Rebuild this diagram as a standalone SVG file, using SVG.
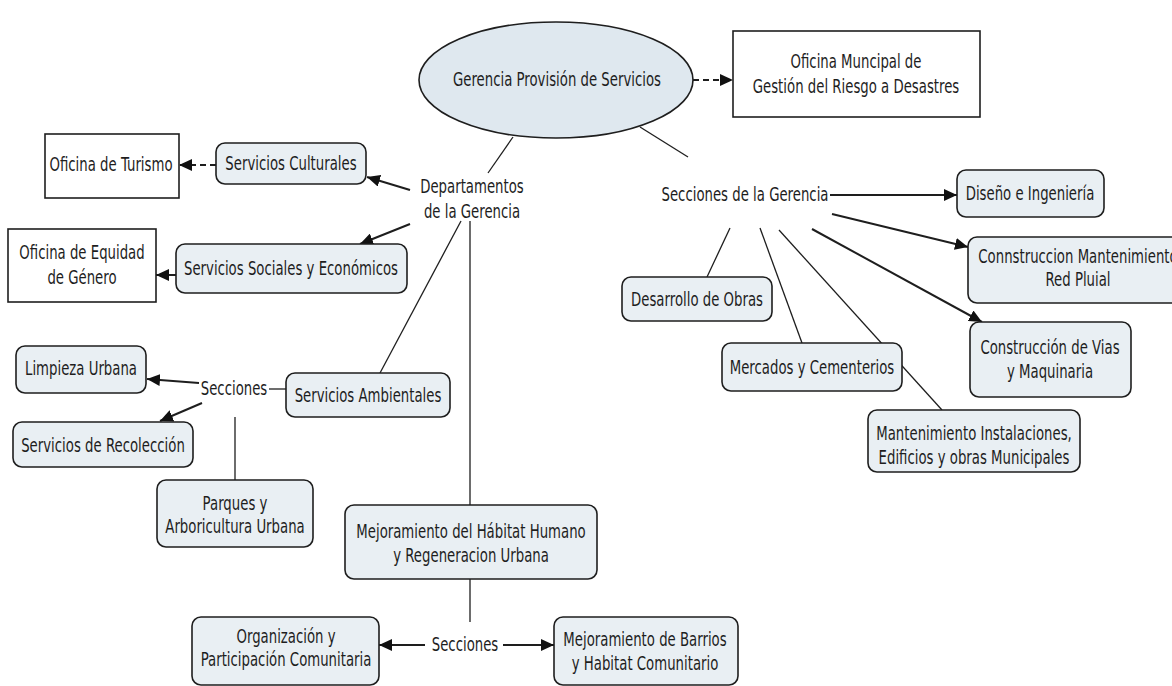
<svg xmlns="http://www.w3.org/2000/svg" width="1172" height="686" viewBox="0 0 1172 686">
<style>
.t{font-family:"DejaVu Sans",Verdana,"Liberation Sans",sans-serif;font-size:19px;text-anchor:middle;fill:#1e1e1e}
.n{fill:#e9eff3;stroke:#1e1e1e;stroke-width:1.6}
.b{fill:#ffffff;stroke:#1e1e1e;stroke-width:1.6}
.c{fill:none;stroke:#1e1e1e;stroke-width:1.3}
.a{fill:none;stroke:#1e1e1e;stroke-width:2;marker-end:url(#ah)}
.d{fill:none;stroke:#1e1e1e;stroke-width:1.8;stroke-dasharray:6 4;marker-end:url(#ah)}
</style>
<defs>
<marker id="ah" markerUnits="userSpaceOnUse" markerWidth="14" markerHeight="12" refX="13" refY="6" orient="auto">
<path d="M0,0 L13,6 L0,12 z" fill="#111"/>
</marker>
</defs>
<rect width="1172" height="686" fill="#ffffff"/>
<g id="connectors">
<path class="d" d="M693,80 L733,80"/>
<path class="c" d="M513,137 L488,173"/>
<path class="c" d="M640,127 L688,157"/>
<path class="a" d="M410,190 L367,177"/>
<path class="a" d="M410,224 L360,244"/>
<path class="c" d="M461,221 L380,373"/>
<path class="c" d="M470,221 L470,505"/>
<path class="d" d="M216,165 L179,165"/>
<path class="a" d="M176,275 L156,275"/>
<path class="c" d="M286,389 L269,389"/>
<path class="a" d="M199,383 L147,379"/>
<path class="a" d="M202,403 L160,421"/>
<path class="c" d="M235,417 L235,480"/>
<path class="c" d="M470,579 L470,622"/>
<path class="a" d="M425,645 L379,645"/>
<path class="a" d="M503,645 L554,645"/>
<path class="a" d="M830,195 L957,195"/>
<path class="a" d="M832,214 L968,247"/>
<path class="a" d="M812,229 L982,322"/>
<path class="c" d="M730,228 L707,277"/>
<path class="c" d="M760,228 L802,343"/>
<path class="c" d="M779,230 L942,410"/>
</g>
<g id="gerencia">
<ellipse cx="556" cy="80" rx="137" ry="58" fill="#dfe8ef" stroke="#1e1e1e" stroke-width="1.6"/>
<text class="t" transform="translate(557 0) scale(0.7 1)" x="0" y="86">Gerencia Provisión de Servicios</text>
</g>
<g id="oficina-riesgo">
<rect class="b" x="733" y="31" width="247" height="86"/>
<text class="t" transform="translate(856 0) scale(0.7 1)"><tspan x="0" y="68">Oficina Muncipal de</tspan><tspan x="0" y="93">Gestión del Riesgo a Desastres</tspan></text>
</g>
<g id="departamentos">
<text class="t" transform="translate(472 0) scale(0.7 1)"><tspan x="0" y="193">Departamentos</tspan><tspan x="0" y="218">de la Gerencia</tspan></text>
</g>
<g id="secciones-gerencia">
<text class="t" transform="translate(745 0) scale(0.7 1)" x="0" y="201">Secciones de la Gerencia</text>
</g>
<g id="oficina-turismo">
<rect class="b" x="45" y="134" width="134" height="64"/>
<text class="t" transform="translate(111 0) scale(0.7 1)" x="0" y="171">Oficina de Turismo</text>
</g>
<g id="servicios-culturales">
<rect class="n" x="216" y="143" width="150" height="41" rx="9"/>
<text class="t" transform="translate(291 0) scale(0.7 1)" x="0" y="170">Servicios Culturales</text>
</g>
<g id="oficina-equidad">
<rect class="b" x="8" y="229" width="148" height="73"/>
<text class="t" transform="translate(82 0) scale(0.7 1)"><tspan x="0" y="259">Oficina de Equidad</tspan><tspan x="0" y="284">de Género</tspan></text>
</g>
<g id="servicios-sociales">
<rect class="n" x="176" y="244" width="231" height="49" rx="9"/>
<text class="t" transform="translate(291 0) scale(0.7 1)" x="0" y="275">Servicios Sociales y Económicos</text>
</g>
<g id="servicios-ambientales">
<rect class="n" x="286" y="373" width="164" height="44" rx="9"/>
<text class="t" transform="translate(368 0) scale(0.7 1)" x="0" y="402">Servicios Ambientales</text>
</g>
<g id="secciones-ambientales">
<text class="t" transform="translate(234 0) scale(0.7 1)" x="0" y="395">Secciones</text>
</g>
<g id="limpieza">
<rect class="n" x="16" y="346" width="130" height="47" rx="9"/>
<text class="t" transform="translate(81 0) scale(0.7 1)" x="0" y="375">Limpieza Urbana</text>
</g>
<g id="recoleccion">
<rect class="n" x="13" y="422" width="180" height="45" rx="9"/>
<text class="t" transform="translate(103 0) scale(0.7 1)" x="0" y="452">Servicios de Recolección</text>
</g>
<g id="parques">
<rect class="n" x="157" y="480" width="156" height="67" rx="9"/>
<text class="t" transform="translate(235 0) scale(0.7 1)"><tspan x="0" y="510">Parques y</tspan><tspan x="0" y="533">Arboricultura Urbana</tspan></text>
</g>
<g id="mejoramiento-habitat">
<rect class="n" x="345" y="505" width="252" height="74" rx="9"/>
<text class="t" transform="translate(471 0) scale(0.7 1)"><tspan x="0" y="538">Mejoramiento del Hábitat Humano</tspan><tspan x="0" y="562">y Regeneracion Urbana</tspan></text>
</g>
<g id="secciones-habitat">
<text class="t" transform="translate(465 0) scale(0.7 1)" x="0" y="651">Secciones</text>
</g>
<g id="organizacion">
<rect class="n" x="192" y="617" width="187" height="68" rx="9"/>
<text class="t" transform="translate(286 0) scale(0.7 1)"><tspan x="0" y="643">Organización y</tspan><tspan x="0" y="666">Participación Comunitaria</tspan></text>
</g>
<g id="mejoramiento-barrios">
<rect class="n" x="554" y="617" width="184" height="68" rx="9"/>
<text class="t" transform="translate(645 0) scale(0.7 1)"><tspan x="0" y="646">Mejoramiento de Barrios</tspan><tspan x="0" y="670">y Habitat Comunitario</tspan></text>
</g>
<g id="diseno">
<rect class="n" x="957" y="170" width="147" height="47" rx="9"/>
<text class="t" transform="translate(1030 0) scale(0.7 1)" x="0" y="200">Diseño e Ingeniería</text>
</g>
<g id="construccion-red">
<rect class="n" x="968" y="237" width="225" height="66" rx="9"/>
<text class="t" transform="translate(1078 0) scale(0.7 1)"><tspan x="0" y="263">Connstruccion Mantenimiento</tspan><tspan x="0" y="286">Red Pluial</tspan></text>
</g>
<g id="desarrollo">
<rect class="n" x="622" y="277" width="150" height="44" rx="9"/>
<text class="t" transform="translate(697 0) scale(0.7 1)" x="0" y="306">Desarrollo de Obras</text>
</g>
<g id="mercados">
<rect class="n" x="722" y="343" width="180" height="48" rx="9"/>
<text class="t" transform="translate(812 0) scale(0.7 1)" x="0" y="374">Mercados y Cementerios</text>
</g>
<g id="construccion-vias">
<rect class="n" x="970" y="322" width="161" height="75" rx="9"/>
<text class="t" transform="translate(1050 0) scale(0.7 1)"><tspan x="0" y="354">Construcción de Vias</tspan><tspan x="0" y="378">y Maquinaria</tspan></text>
</g>
<g id="mantenimiento">
<rect class="n" x="868" y="410" width="212" height="62" rx="9"/>
<text class="t" transform="translate(974 0) scale(0.7 1)"><tspan x="0" y="440">Mantenimiento Instalaciones,</tspan><tspan x="0" y="464">Edificios y obras Municipales</tspan></text>
</g>
</svg>
